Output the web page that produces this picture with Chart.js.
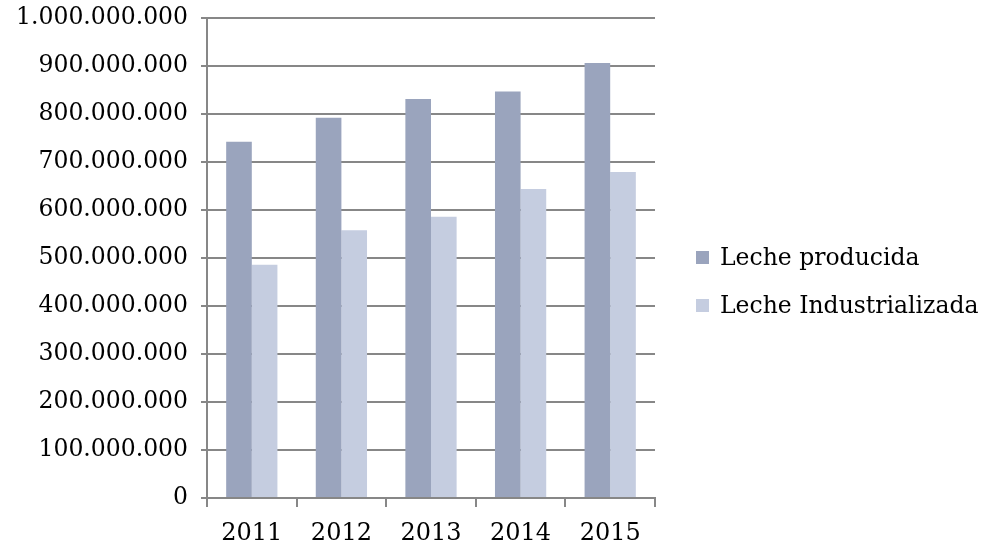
<!DOCTYPE html>
<html lang="es">
<head>
    <meta charset="UTF-8">
    <title>Leche producida e industrializada</title>
    <script src="https://cdn.jsdelivr.net/npm/chart.js"></script>
    <style>
        html, body {
            margin: 0;
            padding: 0;
            background: #ffffff;
        }

        #chartContainer {
            position: relative;
            width: 992px;
            height: 548px;
        }

        #legend {
            position: absolute;
            left: 696px;
            top: 243px;
            font-family: "DejaVu Serif", "Liberation Serif", serif;
            font-size: 23.5px;
            color: #000000;
        }

        .legend-item {
            position: relative;
            height: 48px;
            line-height: 28px;
            padding-left: 24px;
            white-space: nowrap;
        }

        .legend-box {
            position: absolute;
            left: 0;
            top: 8px;
            width: 13px;
            height: 13px;
        }
    </style>
</head>
<body>
    <div id="chartContainer">
        <canvas id="milkChart"></canvas>
        <div id="legend"></div>
    </div>
    <script>
        const years = ['2011', '2012', '2013', '2014', '2015'];
        const seriesNames = ['Leche producida', 'Leche Industrializada'];
        const lecheProducida = [742000000, 792000000, 831000000, 847000000, 906000000];
        const lecheIndustrializada = [486000000, 558000000, 586000000, 644000000, 679000000];
        const yTicks = [0, 100000000, 200000000, 300000000, 400000000, 500000000,
                        600000000, 700000000, 800000000, 900000000, 1000000000];

        const fontFamily = '"DejaVu Serif", "Liberation Serif", serif';
        const gridGray = '#878787';

        // 1.000.000.000 style
        const formatDots = (v) => String(Math.round(v)).replace(/\B(?=(\d{3})+(?!\d))/g, '.');

        const ctx = document.getElementById('milkChart').getContext('2d');

        const chart = new Chart(ctx, {
            type: 'bar',
            data: {
                labels: years,
                datasets: [
                    {
                        label: seriesNames[0],
                        data: lecheProducida,
                        backgroundColor: '#9AA4BD',
                        borderWidth: 0
                    },
                    {
                        label: seriesNames[1],
                        data: lecheIndustrializada,
                        backgroundColor: '#C5CDE0',
                        borderWidth: 0
                    }
                ]
            },
            options: {
                responsive: true,
                maintainAspectRatio: false,
                animation: false,
                datasets: {
                    bar: {
                        categoryPercentage: 0.572,
                        barPercentage: 1.0
                    }
                },
                layout: {
                    padding: { top: 18, right: 337, bottom: 0, left: 0 }
                },
                plugins: {
                    tooltip: { enabled: false },
                    legend: { display: false }
                },
                scales: {
                    x: {
                        offset: true,
                        grid: {
                            display: true,
                            drawOnChartArea: false,
                            offset: true,
                            color: gridGray,
                            lineWidth: 2,
                            tickLength: 9
                        },
                        border: { color: gridGray, width: 2 },
                        ticks: {
                            color: '#000000',
                            padding: 12,
                            font: { family: fontFamily, size: 24 }
                        },
                        afterFit: (scale) => {
                            scale.height = 50;
                            scale.paddingLeft = 0;
                            scale.paddingRight = 0;
                        }
                    },
                    y: {
                        min: 0,
                        max: 1000000000,
                        afterBuildTicks: (scale) => {
                            scale.ticks = yTicks.map(v => ({ value: v }));
                        },
                        grid: {
                            color: gridGray,
                            lineWidth: 2,
                            tickLength: 6
                        },
                        border: { color: gridGray, width: 2 },
                        ticks: {
                            color: '#000000',
                            padding: 13,
                            font: { family: fontFamily, size: 23.5 },
                            callback: (value) => formatDots(value)
                        },
                        afterFit: (scale) => {
                            scale.width = 207;
                            scale.paddingTop = 0;
                            scale.paddingBottom = 0;
                        }
                    }
                }
            }
        });

        // legend built from the chart's own datasets
        const legendEl = document.getElementById('legend');
        chart.data.datasets.forEach(ds => {
            const item = document.createElement('div');
            item.className = 'legend-item';
            const box = document.createElement('span');
            box.className = 'legend-box';
            box.style.background = ds.backgroundColor;
            item.appendChild(box);
            item.appendChild(document.createTextNode(ds.label));
            legendEl.appendChild(item);
        });
    </script>
</body>
</html>
